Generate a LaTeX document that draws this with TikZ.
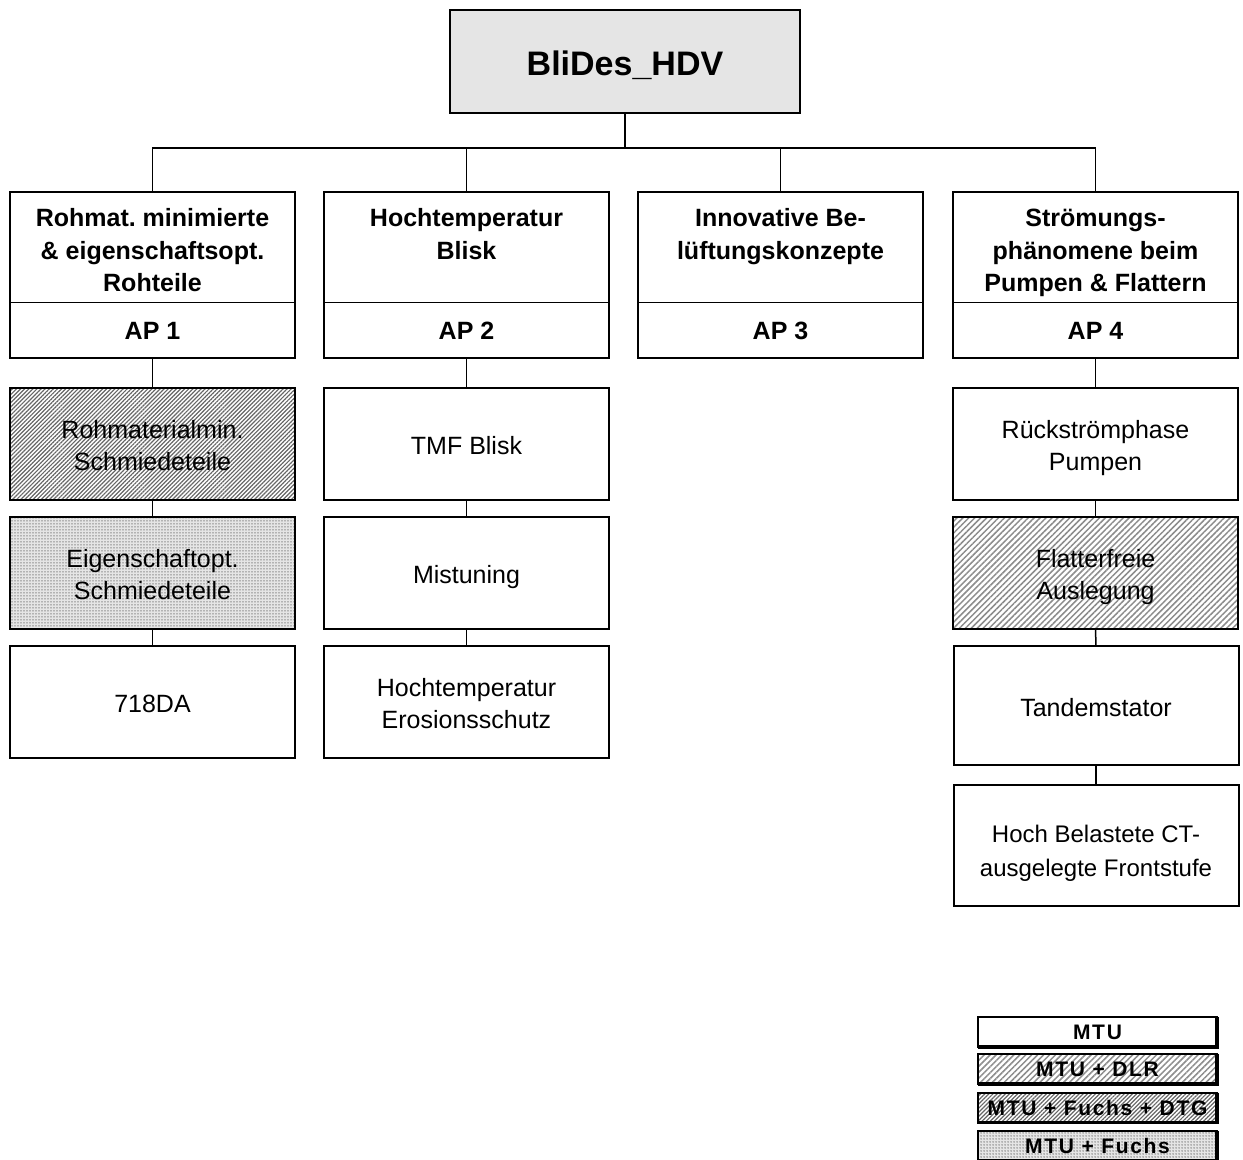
\documentclass[tikz,border=0pt]{standalone}
\usepackage{fontspec}
\setmainfont{Liberation Sans}
\usetikzlibrary{patterns.meta}
\frenchspacing

\begin{document}
\begin{tikzpicture}[x=.5pt,y=-.5pt,
  box/.style={draw,line width=1pt,align=center,inner sep=0pt,outer sep=0pt,minimum width=142.5pt,minimum height=56pt,font=\fontsize{12.5}{16}\selectfont,text height=10.5pt,text depth=0pt},
  two/.style={text height=26.5pt},
  head/.style={box,draw=none,minimum height=55.5pt,font=\fontsize{12.5}{16.25}\selectfont\bfseries,text height=44.5pt},
  ap/.style={head,minimum height=27.5pt,text height=9.5pt},
  link/.style={line width=.75pt},
  dlr/.style={pattern={Lines[angle=45,distance=2.1pt,line width=.75pt]},pattern color=black!45},
  dtg/.style={pattern={Lines[angle=45,distance=1.45pt,line width=.6pt]},pattern color=black!60},
  fuchs/.style={preaction={fill=black!10},pattern={Dots[distance=1.5pt,radius=.38pt]},pattern color=black!50},
  legend/.style={draw,line width=1pt,inner sep=0pt,outer sep=0pt,minimum width=119.5pt,minimum height=15pt,font=\fontsize{10.5}{10.5}\selectfont\bfseries\addfontfeature{LetterSpace=8},text height=7.8pt,text depth=0pt}]
\useasboundingbox (0,0) rectangle (1243,1160);
% top
\node[box,fill=black!10,minimum width=175pt,minimum height=51.5pt,font=\fontsize{17}{18}\selectfont\bfseries,text height=14.5pt] (top) at (625,61.5) {BliDes\_HDV};
% work packages
\node[head] (h1) at (152.5,247.5) {Rohmat. minimierte\\\& eigenschaftsopt.\\Rohteile};
\node[head] (h2) at (466.5,247.5) {Hochtemperatur\\Blisk\\~};
\node[head] (h3) at (780.5,247.5) {Innovative Be-\\lüftungskonzepte\\~};
\node[head] (h4) at (1095.5,247.5) {Strömungs-\\phänomene beim\\Pumpen \& Flattern};
\node[ap] (a1) at (152.5,330.5) {AP 1};
\node[ap] (a2) at (466.5,330.5) {AP 2};
\node[ap] (a3) at (780.5,330.5) {AP 3};
\node[ap] (a4) at (1095.5,330.5) {AP 4};
\foreach \n in {1,2,3,4} {
  \draw[line width=1pt] (h\n.north west) rectangle (a\n.south east);
  \draw[line width=.5pt] (h\n.south west)--(h\n.south east);
}
% bus
\coordinate (bus) at (625,148);
\draw[link] (top.south)--(bus);
\draw[link] (h1.north)|-(bus)-|(h4.north);
\foreach \n in {h2,h3} \draw[link] (\n.north)--(\n.north|-bus);
% tasks
\node[box,two,dtg] (s11) at (152.5,444) {Rohmaterialmin.\\Schmiedeteile};
\node[box,two,fuchs] (s12) at (152.5,573) {Eigenschaftopt.\\Schmiedeteile};
\node[box] (s13) at (152.5,702) {718DA};
\node[box] (s21) at (466.5,444) {TMF Blisk};
\node[box] (s22) at (466.5,573) {Mistuning};
\node[box,two] (s23) at (466.5,702) {Hochtemperatur\\Erosionsschutz};
\node[box,two] (s41) at (1095.5,444) {Rückströmphase\\Pumpen};
\node[box,two,dlr] (s42) at (1095.5,573) {Flatterfreie\\Auslegung};
\node[box,minimum height=59.5pt] (s43) at (1096,705.5) {Tandemstator};
\node[box,minimum height=60.5pt,font=\fontsize{12}{17}\selectfont,text height=31pt] (s44) at (1096,845.5) {Hoch Belastete CT-\\ausgelegte Frontstufe};
\foreach \a/\b in {a1/s11,s11/s12,s12/s13,a2/s21,s21/s22,s22/s23,a4/s41,s41/s42,s42/s43,s43/s44}
  \draw[link] (\a.south)--(\b.north);
% legend
\node[legend,fill=white] (lg1) at (1097.5,1032) {MTU};
\node[legend,dlr] (lg2) at (1097.5,1069) {MTU + DLR};
\node[legend,dtg] (lg3) at (1097.5,1107.5) {MTU + Fuchs + DTG};
\node[legend,fuchs] (lg4) at (1097.5,1146) {MTU + Fuchs};
\foreach \n in {lg1,lg2,lg3,lg4} \draw[line width=1.6pt] (\n.north east)--(\n.south east)--(\n.south west);
\end{tikzpicture}
\end{document}
